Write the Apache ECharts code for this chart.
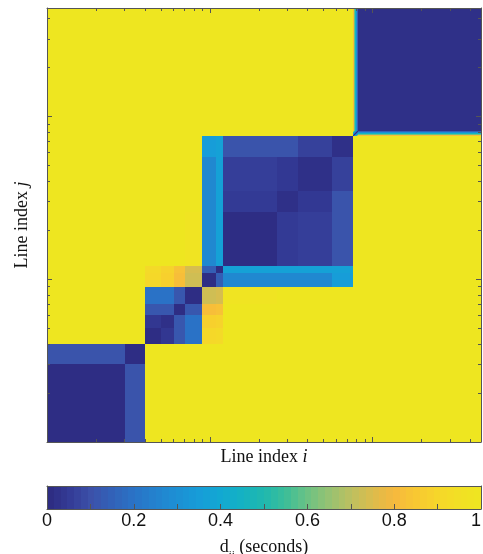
<!DOCTYPE html>
<html>
<head>
<meta charset="utf-8">
<script src="https://cdn.jsdelivr.net/npm/echarts@6/dist/echarts.min.js"></script>
<style>
html, body { margin: 0; padding: 0; background: #fff; }
#main { width: 483px; height: 554px; }
</style>
</head>
<body>
<div id="main"></div>
<script>
// line index where each group of lines starts (last value closes the last group)
var groupEdges = [1, 3, 4, 5, 6, 7, 9, 11, 12, 26, 35, 56, 76, 77, 78, 79, 80, 81, 464];

// d_ij between groups, seconds (row = group along j, column = group along i)
var dist = [
  [.01, .11, 1, 1, 1, 1, 1, 1, 1, 1, 1, 1, 1, 1, 1, 1, 1, 1],
  [.11, .01, 1, 1, 1, 1, 1, 1, 1, 1, 1, 1, 1, 1, 1, 1, 1, 1],
  [1, 1, .01, .04, .12, .20, .91, .92, 1, 1, 1, 1, 1, 1, 1, 1, 1, 1],
  [1, 1, .04, .02, .12, .20, .88, .89, 1, 1, 1, 1, 1, 1, 1, 1, 1, 1],
  [1, 1, .12, .12, .01, .12, .82, .83, 1, 1, 1, 1, 1, 1, 1, 1, 1, 1],
  [1, 1, .20, .20, .12, .01, .73, .74, .98, 1, 1, 1, 1, 1, 1, 1, 1, 1],
  [1, 1, .91, .88, .82, .73, .01, .14, .27, .27, .27, .35, 1, 1, 1, 1, 1, 1],
  [1, 1, .92, .89, .83, .74, .14, .01, .37, .37, .37, .37, 1, 1, 1, 1, 1, 1],
  [1, 1, 1, 1, 1, .98, .27, .37, .01, .05, .06, .11, 1, 1, 1, 1, 1, 1],
  [1, 1, 1, 1, 1, 1, .27, .37, .05, .02, .045, .11, 1, 1, 1, 1, 1, 1],
  [1, 1, 1, 1, 1, 1, .27, .37, .06, .045, .02, .065, 1, 1, 1, 1, 1, 1],
  [1, 1, 1, 1, 1, 1, .35, .37, .11, .11, .065, .02, 1, 1, 1, 1, 1, 1],
  [1, 1, 1, 1, 1, 1, 1, 1, 1, 1, 1, 1, .01, .20, .35, .50, .65, .82],
  [1, 1, 1, 1, 1, 1, 1, 1, 1, 1, 1, 1, .20, .01, .15, .30, .45, .60],
  [1, 1, 1, 1, 1, 1, 1, 1, 1, 1, 1, 1, .35, .15, .01, .15, .30, .45],
  [1, 1, 1, 1, 1, 1, 1, 1, 1, 1, 1, 1, .50, .30, .15, .01, .15, .30],
  [1, 1, 1, 1, 1, 1, 1, 1, 1, 1, 1, 1, .65, .45, .30, .15, .01, .15],
  [1, 1, 1, 1, 1, 1, 1, 1, 1, 1, 1, 1, .82, .60, .45, .30, .15, .02]
];

// tick marks on the line index axes
var majorTicks = [1, 10, 100];
var minorTicks = [2, 3, 4, 5, 6, 7, 8, 9, 20, 30, 40, 50, 60, 70, 80, 90, 200, 300, 400];
var indexMax = 464;

// colour bar
var cbTicks = [0, 0.1, 0.2, 0.3, 0.4, 0.5, 0.6, 0.7, 0.8, 0.9, 1];
var cbLabels = [0, 0.2, 0.4, 0.6, 0.8, 1];
var cbLevels = 64;

// parula as printed, 0 -> 1 in steps of 0.05
var parula = ['#2d2a80', '#333a95', '#3c50a8', '#3262b8', '#2a72c6', '#2382ce', '#1c90d4',
  '#179dd8', '#12a8d2', '#14b2c2', '#20b8ae', '#3cbe98', '#6cc284', '#96c272', '#bcc060',
  '#dcbc4c', '#f6b83e', '#f8c832', '#f6d62a', '#f2e024', '#eee620'];

var blocks = [];
for (var j = 0; j < dist.length; j++) {
  for (var i = 0; i < dist[j].length; i++) {
    blocks.push([groupEdges[i], groupEdges[i + 1], groupEdges[j], groupEdges[j + 1], dist[j][i]]);
  }
}
var cbData = [];
for (var k = 0; k < cbLevels; k++) {
  cbData.push([k / cbLevels, (k + 1) / cbLevels, 0, 1, (k + 0.5) / cbLevels]);
}

function renderRect(params, api) {
  var p0 = api.coord([api.value(0), api.value(2)]);
  var p1 = api.coord([api.value(1), api.value(3)]);
  var x0 = Math.round(p0[0]), x1 = Math.round(p1[0]);
  var y0 = Math.round(p0[1]), y1 = Math.round(p1[1]);
  return {
    type: 'rect',
    shape: { x: Math.min(x0, x1), y: Math.min(y0, y1), width: Math.abs(x1 - x0), height: Math.abs(y1 - y0) },
    style: { fill: api.visual('color') }
  };
}

var lineColor = '#555';
var serif = 'Liberation Serif';
var logMax = Math.log10(indexMax);
function log10s(arr) { return arr.map(function (v) { return Math.log10(v); }); }

function axisLine(show) {
  return { show: show, onZero: false, lineStyle: { color: lineColor, width: 1 } };
}
// axes sit above the series so the inward ticks stay visible
function tickAxis(pos, ticks, len, showLine) {
  return {
    type: 'value', gridIndex: 0, position: pos, min: 0, max: logMax, z: 5,
    axisLine: axisLine(showLine),
    axisTick: { show: true, inside: true, length: len, customValues: log10s(ticks), lineStyle: { color: lineColor } },
    axisLabel: { show: false }, splitLine: { show: false }
  };
}
function plainAxis(grid, pos) {
  return {
    type: 'value', gridIndex: grid, position: pos, min: 0, max: 1, z: 5,
    axisLine: axisLine(true),
    axisTick: { show: false }, axisLabel: { show: false }, splitLine: { show: false }
  };
}
function nameStyle() {
  return {
    fontFamily: serif, fontSize: 18, color: '#111',
    rich: { it: { fontFamily: serif, fontSize: 18, fontStyle: 'italic', color: '#111' } }
  };
}

var chart = echarts.init(document.getElementById('main'));
var option = {
  animation: false,
  backgroundColor: '#fff',
  grid: [
    { left: 47, top: 8, width: 434, height: 434, outerBoundsMode: 'none', containLabel: false },
    { left: 47, top: 486, width: 434, height: 23, outerBoundsMode: 'none', containLabel: false }
  ],
  visualMap: {
    show: false, type: 'continuous', min: 0, max: 1, dimension: 4, seriesIndex: [0, 1],
    inRange: { color: parula }
  },
  xAxis: [
    {
      type: 'log', logBase: 10, gridIndex: 0, position: 'bottom', min: 1, max: indexMax, z: 5,
      axisLine: axisLine(true),
      axisTick: { show: false }, axisLabel: { show: false }, splitLine: { show: false }, minorTick: { show: false },
      name: 'Line index {it|i}', nameLocation: 'middle', nameGap: 6, nameTextStyle: nameStyle()
    },
    tickAxis('bottom', majorTicks, 5, false),
    tickAxis('bottom', minorTicks, 3, false),
    tickAxis('top', majorTicks, 5, true),
    tickAxis('top', minorTicks, 3, false),
    {
      type: 'value', gridIndex: 1, position: 'bottom', min: 0, max: 1, z: 5,
      axisLine: axisLine(true),
      axisTick: { show: true, inside: true, length: 5, customValues: cbTicks, lineStyle: { color: lineColor } },
      axisLabel: {
        show: true, customValues: cbLabels, margin: 3, alignMaxLabel: 'right',
        fontFamily: 'Liberation Sans', fontSize: 18, color: '#111'
      },
      splitLine: { show: false },
      name: '{m|d}{sub|ij}{m| (seconds)}', nameLocation: 'middle', nameGap: 24,
      nameTextStyle: {
        fontFamily: serif, fontSize: 18, color: '#111',
        rich: {
          m: { fontFamily: serif, fontSize: 18, color: '#111', lineHeight: 28 },
          sub: { fontFamily: serif, fontSize: 11, color: '#111', lineHeight: 11, verticalAlign: 'bottom' }
        }
      }
    },
    plainAxis(1, 'top')
  ],
  yAxis: [
    {
      type: 'log', logBase: 10, gridIndex: 0, position: 'left', min: 1, max: indexMax, z: 5,
      axisLine: axisLine(true),
      axisTick: { show: false }, axisLabel: { show: false }, splitLine: { show: false }, minorTick: { show: false },
      name: 'Line index {it|j}', nameLocation: 'middle', nameGap: 16, nameTextStyle: nameStyle()
    },
    tickAxis('left', majorTicks, 5, false),
    tickAxis('left', minorTicks, 3, false),
    tickAxis('right', majorTicks, 5, true),
    tickAxis('right', minorTicks, 3, false),
    plainAxis(1, 'left'),
    plainAxis(1, 'right')
  ],
  series: [
    {
      name: 'd_ij', type: 'custom', xAxisIndex: 0, yAxisIndex: 0, z: 1,
      renderItem: renderRect, encode: { x: [0, 1], y: [2, 3] }, clip: true,
      data: blocks
    },
    {
      name: 'colorbar', type: 'custom', xAxisIndex: 5, yAxisIndex: 5, z: 1,
      renderItem: renderRect, encode: { x: [0, 1], y: [2, 3] }, clip: true,
      data: cbData
    }
  ]
};
chart.setOption(option);
</script>
</body>
</html>
